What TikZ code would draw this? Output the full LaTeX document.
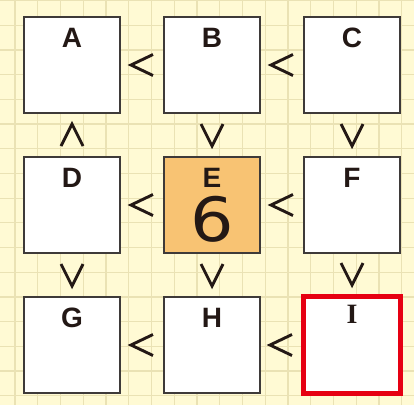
\documentclass[tikz,border=0pt]{standalone}
\usepackage{fontspec}
\setmainfont{Liberation Sans}
\newfontfamily\serifI{Liberation Serif}
\newfontfamily\digitfont{DejaVu Sans}
\usetikzlibrary{calc}
\definecolor{cPaper}{RGB}{255,250,212}
\definecolor{cGrid}{RGB}{234,226,180}
\definecolor{cInk}{RGB}{35,24,21}
\definecolor{cEdge}{RGB}{62,58,57}
\definecolor{cOrange}{RGB}{248,195,115}
\definecolor{cRed}{RGB}{230,0,18}

\begin{document}
\begin{tikzpicture}[x=1pt, y=-1pt,
            box/.style={rectangle, draw=cEdge, line width=1.6pt, fill=white, minimum size=96.4pt, inner sep=0pt},
            lbl/.style={text=cInk, font=\fontsize{28}{28}\selectfont\bfseries, inner sep=0pt},
            sign/.style={draw=cInk, line width=2.9pt},
            ltsign/.pic={\draw[sign] (11,-10.5) -- (-11,0) -- (11,10.5);},
            upsign/.pic={\draw[sign] (-11,11) -- (0,-11) -- (11,11);},
            dnsign/.pic={\draw[sign] (-11,-11) -- (0,11) -- (11,-11);}]
            \useasboundingbox (0,0) rectangle (414,405);
            \fill[cPaper] (0,0) rectangle (414,405);
            \foreach \k in {0,...,17} { \draw[cGrid, line width=1.2pt] ({15+22.75*\k},0) -- ({15+22.75*\k},405); }
            \foreach \k in {0,...,16} { \draw[cGrid, line width=1.2pt] (0,{0.5+24.7*\k}) -- (414,{0.5+24.7*\k}); }
            \node[box] (A) at (72,65)   {};
            \node[box] (B) at (212,65)  {};
            \node[box] (C) at (352,65)  {};
            \node[box] (D) at (72,205)  {};
            \node[box, fill=cOrange] (E) at (212,205) {};
            \node[box] (F) at (352,205) {};
            \node[box] (G) at (72,345)  {};
            \node[box] (H) at (212,345) {};
            \node[box, draw=cRed, line width=5pt, minimum size=97pt] (I) at (352,345) {};
            \foreach \n in {A,B,C,D,E,F,G,H} { \node[lbl] (l\n) at ([yshift=-21.5pt]\n.north) {\n}; }
            \node[lbl, font=\fontsize{28}{28}\selectfont\serifI\bfseries] (lI) at ([yshift=-20pt]I.north) {I};
            \node[text=cInk, font=\fontsize{61}{61}\selectfont\digitfont, inner sep=0pt] (num) at ([yshift=-14.5pt]E.center) {\scalebox{1.12}[1]{6}};
            \foreach \a/\b in {A/B,B/C,D/E,E/F,G/H,H/I} { \pic at ($(\a.east)!0.5!(\b.west)$) {ltsign}; }
            \foreach \a/\b in {B/E,C/F,D/G,E/H,F/I} { \pic at ($(\a.south)!0.5!(\b.north)$) {dnsign}; }
            \pic at ($(A.south)!0.5!(D.north)$) {upsign};
        \end{tikzpicture}
\end{document}
